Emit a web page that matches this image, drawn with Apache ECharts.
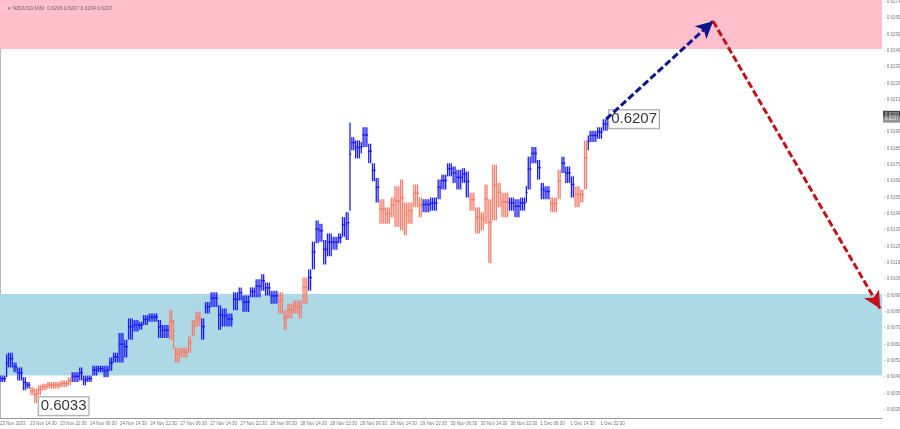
<!DOCTYPE html>
<html>
<head>
<meta charset="utf-8">
<script src="https://cdn.jsdelivr.net/npm/echarts@6/dist/echarts.min.js"></script>
<style>
  html, body { margin: 0; padding: 0; background: #fff; }
  #chart { width: 900px; height: 429px; }
</style>
</head>
<body>
<div id="chart"></div>
<script>
// bar index (M30 bars from the left edge), low and high of each read slice
var barIdx = [0, 3, 4, 7, 9, 12, 14, 16, 18, 20, 22, 25, 29, 32, 36, 38, 42, 44, 46, 49,
  52, 55, 58, 60, 63, 66, 68, 71, 74, 76, 79, 82, 84, 86, 90, 92, 93, 96, 100, 102,
  104, 107, 109, 112, 116, 118, 121, 124, 127, 129, 133, 136, 139, 141, 144, 148, 151, 153, 156, 159,
  161, 164, 166, 168, 170, 172, 174, 177, 180, 182, 184, 186, 187, 189, 192, 193, 196, 198, 200, 202,
  205, 208, 210, 213, 215, 217, 220, 223, 225, 229, 233, 235, 238, 241, 243, 246, 248, 250, 253, 256,
  258, 260, 262, 265, 267, 271, 274, 277, 280, 281, 283, 286, 288, 290, 293, 297, 299, 301, 304, 306,
  309, 311, 313, 314, 318, 321];
var lows = [0.6046, 0.6049, 0.6055, 0.6052, 0.6047, 0.6041, 0.6042, 0.6038, 0.6033, 0.6038, 0.6041, 0.6042, 0.6042, 0.6043, 0.6044, 0.6046, 0.6047, 0.6044, 0.6046, 0.6050,
  0.6052, 0.6049, 0.6053, 0.6058, 0.6058, 0.6061, 0.6072, 0.6077, 0.6078, 0.6081, 0.6083, 0.6083, 0.6073, 0.6073, 0.6072, 0.6066, 0.6058, 0.6061, 0.6064, 0.6074,
  0.6080, 0.6072, 0.6088, 0.6092, 0.6078, 0.6080, 0.6080, 0.6090, 0.6096, 0.6089, 0.6098, 0.6098, 0.6102, 0.6099, 0.6094, 0.6088, 0.6078, 0.6085, 0.6088, 0.6085,
  0.6094, 0.6102, 0.6115, 0.6131, 0.6132, 0.6118, 0.6123, 0.6127, 0.6131, 0.6135, 0.6133, 0.6151, 0.6188, 0.6183, 0.6186, 0.6190, 0.6180, 0.6169, 0.6156, 0.6143,
  0.6143, 0.6147, 0.6141, 0.6139, 0.6136, 0.6143, 0.6153, 0.6147, 0.6150, 0.6151, 0.6158, 0.6164, 0.6172, 0.6168, 0.6164, 0.6168, 0.6159, 0.6151, 0.6137, 0.6139,
  0.6143, 0.6119, 0.6145, 0.6153, 0.6147, 0.6151, 0.6147, 0.6151, 0.6156, 0.6164, 0.6180, 0.6170, 0.6158, 0.6158, 0.6150, 0.6158, 0.6174, 0.6168, 0.6159, 0.6153,
  0.6156, 0.6164, 0.6188, 0.6193, 0.6195, 0.6200];
var highs = [0.6050, 0.6063, 0.6064, 0.6058, 0.6055, 0.6049, 0.6046, 0.6043, 0.6042, 0.6044, 0.6045, 0.6046, 0.6046, 0.6047, 0.6049, 0.6052, 0.6055, 0.6050, 0.6050, 0.6056,
  0.6056, 0.6056, 0.6061, 0.6064, 0.6076, 0.6072, 0.6085, 0.6084, 0.6083, 0.6087, 0.6088, 0.6088, 0.6084, 0.6081, 0.6090, 0.6084, 0.6067, 0.6067, 0.6074, 0.6084,
  0.6089, 0.6085, 0.6095, 0.6101, 0.6093, 0.6091, 0.6088, 0.6101, 0.6104, 0.6099, 0.6104, 0.6109, 0.6112, 0.6107, 0.6102, 0.6101, 0.6090, 0.6094, 0.6096, 0.6096,
  0.6110, 0.6115, 0.6132, 0.6145, 0.6143, 0.6133, 0.6137, 0.6135, 0.6137, 0.6147, 0.6150, 0.6205, 0.6196, 0.6194, 0.6193, 0.6202, 0.6192, 0.6180, 0.6171, 0.6158,
  0.6153, 0.6159, 0.6166, 0.6170, 0.6156, 0.6156, 0.6167, 0.6159, 0.6158, 0.6159, 0.6170, 0.6173, 0.6180, 0.6178, 0.6176, 0.6177, 0.6175, 0.6162, 0.6153, 0.6150,
  0.6167, 0.6158, 0.6179, 0.6168, 0.6162, 0.6159, 0.6158, 0.6159, 0.6166, 0.6184, 0.6190, 0.6182, 0.6168, 0.6166, 0.6159, 0.6176, 0.6184, 0.6178, 0.6172, 0.6166,
  0.6164, 0.6194, 0.6197, 0.6200, 0.6202, 0.6207];
var lastBar = 324;
// bar where each wave starts; colours alternate blue / salmon
var waveStarts = [0, 16, 38, 90, 107, 148, 164, 202, 225, 250, 271, 293, 299, 306, 313];

var timeLabels = ['23 Nov 2023', '23 Nov 14:30', '23 Nov 22:30', '24 Nov 06:30', '24 Nov 14:30',
  '24 Nov 22:30', '27 Nov 06:30', '27 Nov 14:30', '27 Nov 22:30', '28 Nov 06:30', '28 Nov 14:30',
  '28 Nov 22:30', '29 Nov 06:30', '29 Nov 14:30', '29 Nov 22:30', '30 Nov 06:30', '30 Nov 14:30',
  '30 Nov 22:30', '1 Dec 06:30', '1 Dec 14:30', '1 Dec 22:30'];

var resistZone = [0.6250, 0.6280];
var supportZone = [0.6050, 0.6100];
var arrowBars = [323, 380, 469];
var arrowPrices = [0.6207, 0.6267, 0.6091];
var lowMark = [19, 0.6033];
var lastMark = [323, 0.6207];
var askPrice = 0.6210;
var bidPrice = 0.6207;
var quoteText = '\u25be NZDUSD,M30  0.6206 0.6207 0.6204 0.6207';

var chart = echarts.init(document.getElementById('chart'));

function waveColor(bar) {
  var w = 0;
  for (var k = 0; k < waveStarts.length; k++) {
    if (bar >= waveStarts[k]) w = k;
  }
  return w % 2 == 0 ? '#1e1ef2' : '#f47f6c';
}

var priceData = barIdx.map(function (b, i) {
  var next = i + 1 < barIdx.length ? barIdx[i + 1] : lastBar;
  return [b, lows[i], highs[i], next];
});

var labelBox = {
  show: true,
  position: 'right',
  distance: 3,
  color: '#000',
  fontSize: 15,
  fontFamily: 'Liberation Sans',
  backgroundColor: '#fff',
  borderColor: '#8c8c8c',
  borderWidth: 1,
  padding: [2, 2, 1, 2]
};

var axisTag = {
  show: true,
  position: 'right',
  distance: 1,
  fontSize: 4.5,
  fontFamily: 'Liberation Sans',
  color: '#fff',
  padding: [1, 2, 1, 2]
};

var option = {
  animation: false,
  title: {
    text: quoteText,
    left: 3, top: 1,
    textStyle: { fontSize: 5, color: '#666', fontWeight: 'normal', fontFamily: 'Liberation Sans' }
  },
  grid: { left: 0, right: 18, top: 0, bottom: 11, outerBoundsMode: 'none' },
  xAxis: {
    type: 'value',
    min: 0, max: 470, interval: 16,
    axisLine: { show: true, lineStyle: { color: '#999' } },
    axisTick: { show: false },
    splitLine: { show: false },
    axisLabel: {
      color: '#777', fontSize: 4.5, fontFamily: 'Liberation Sans',
      align: 'left', margin: 3,
      showMinLabel: true, showMaxLabel: false,
      formatter: function (v) {
        var k = Math.round(v / 16);
        return timeLabels[k] || '';
      }
    }
  },
  yAxis: [{
    type: 'value',
    position: 'right',
    min: 0.6024, max: 0.6280, interval: 0.0001,
    axisLine: { show: true, lineStyle: { color: '#999' } },
    axisTick: { show: false },
    splitLine: { show: false },
    axisLabel: {
      color: '#777', fontSize: 4.5, fontFamily: 'Liberation Sans', margin: 2,
      showMinLabel: true, showMaxLabel: true,
      formatter: function (v) {
        var p = Math.round(v * 10000);
        return (p - 6029) % 10 == 0 ? '- ' + (p / 10000).toFixed(4) : '';
      }
    }
  }, {
    type: 'value',
    position: 'left',
    min: 0.6024, max: 0.6280,
    axisLine: { show: true, lineStyle: { color: '#bbb' } },
    axisTick: { show: false },
    axisLabel: { show: false },
    splitLine: { show: false }
  }],
  series: [
    {
      type: 'line',
      data: [],
      z: 0,
      markArea: {
        silent: true,
        data: [
          [{ yAxis: resistZone[0], itemStyle: { color: '#ffc0cb' } }, { yAxis: resistZone[1] }],
          [{ yAxis: supportZone[0], itemStyle: { color: '#add8e6' } }, { yAxis: supportZone[1] }]
        ]
      }
    },
    {
      // each slice drawn as one thin stroke per M30 bar, like the terminal's bar chart
      type: 'custom',
      z: 2,
      data: priceData,
      encode: { x: [0, 3], y: [1, 2] },
      renderItem: function (params, api) {
        var b0 = api.value(0), b1 = api.value(3);
        var top = api.coord([b0, api.value(2)])[1];
        var bot = api.coord([b0, api.value(1)])[1];
        var h = Math.max(bot - top, 1.5);
        var col = waveColor(b0);
        var kids = [];
        for (var j = b0; j < b1; j++) {
          var x = api.coord([j + 0.5, 0.6100])[0];
          kids.push({
            type: 'rect',
            shape: { x: x - 0.65, y: top, width: 1.3, height: h },
            style: { fill: col }
          });
          // small connector so neighbouring strokes read as one line
          kids.push({
            type: 'rect',
            shape: { x: x - 0.65, y: top + h * 0.35, width: 1.9, height: Math.min(1.5, h) },
            style: { fill: col }
          });
        }
        return { type: 'group', children: kids };
      }
    },
    {
      type: 'line',
      data: [],
      z: 3,
      markLine: {
        silent: true,
        symbol: ['none', 'arrow'],
        symbolSize: [13, 17],
        label: { show: false },
        data: [
          [{ coord: [arrowBars[0], arrowPrices[0]], lineStyle: { color: '#0c158f', type: [7, 3], width: 3 } },
           { coord: [arrowBars[1], arrowPrices[1]] }],
          [{ coord: [arrowBars[1], arrowPrices[1]], lineStyle: { color: '#c1121c', type: [7, 3], width: 3 } },
           { coord: [arrowBars[2], arrowPrices[2]] }]
        ]
      }
    },
    {
      type: 'scatter',
      z: 4,
      symbolSize: 0,
      clip: false,
      data: [
        { value: lastMark, label: labelBox },
        { value: lowMark, label: Object.assign({}, labelBox, { offset: [0, 3] }) },
        { value: [470, askPrice], label: Object.assign({}, axisTag, { backgroundColor: '#1a1a1a' }) },
        { value: [470, bidPrice], label: Object.assign({}, axisTag, { backgroundColor: '#7a7a7a' }) }
      ],
      label: {
        formatter: function (p) { return p.value[1].toFixed(4); }
      }
    }
  ]
};

chart.setOption(option);
</script>
</body>
</html>
